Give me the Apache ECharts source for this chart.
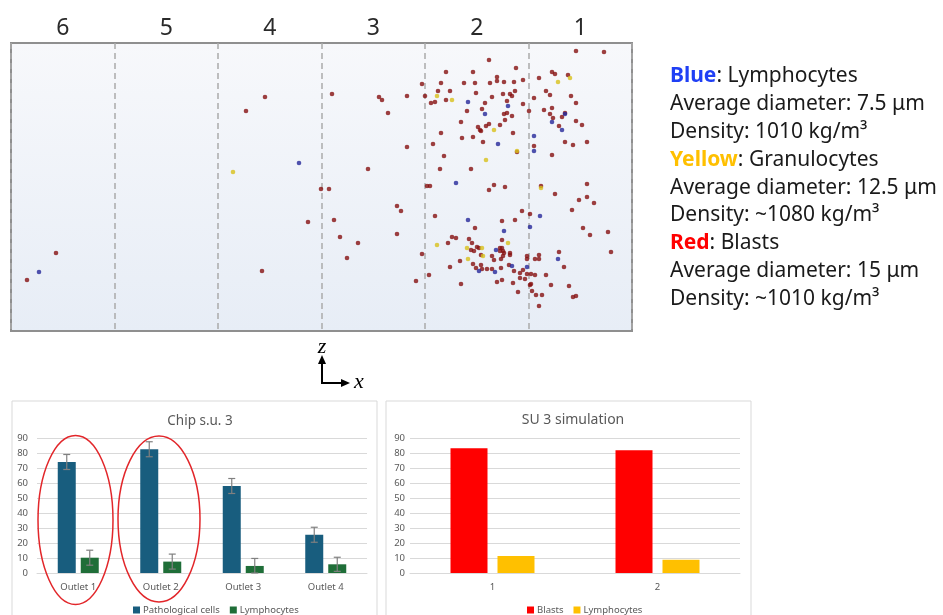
<!DOCTYPE html>
<html>
<head>
<meta charset="utf-8">
<script src="https://cdn.jsdelivr.net/npm/echarts@6.0.0/dist/echarts.min.js"></script>
<style>
  html, body { margin: 0; padding: 0; background: #fff; }
  #main { width: 943px; height: 615px; }
</style>
</head>
<body>
<div id="main"></div>
<script>
// channel sections, numbered from the outlet side
const sections = ['6', '5', '4', '3', '2', '1']

// particle positions [x, z] along the channel (channel = 621 x 288 units)
const blasts = [
  [16, 51], [45, 78], [254, 234], [235, 220], [297, 109], [251, 60], [310, 142], [318, 142],
  [321, 237], [368, 234], [371, 231], [377, 218], [396, 235], [396, 184], [357, 162], [386, 125],
  [390, 120], [323, 111], [329, 94], [386, 97], [347, 88], [336, 73], [411, 77], [405, 50],
  [411, 247], [414, 235], [416, 145],
  [478, 271], [505, 263], [435, 259], [462, 259], [486, 254], [486, 250], [512, 251], [430, 248],
  [453, 248], [464, 248], [479, 248], [493, 249], [503, 249], [427, 240], [439, 240], [465, 238],
  [492, 237], [499, 237], [501, 235], [504, 240], [435, 231], [420, 228], [424, 229], [481, 234],
  [496, 230], [512, 227], [474, 228], [471, 222], [456, 220], [493, 217], [496, 218], [501, 215],
  [494, 211], [450, 209], [467, 204], [475, 205], [478, 207], [489, 206], [469, 201], [470, 200],
  [502, 198], [430, 198], [462, 194], [451, 193], [472, 189], [422, 187], [506, 179], [433, 175],
  [429, 162], [460, 162], [419, 145], [483, 146], [494, 144],
  [478, 141], [511, 120], [424, 115], [491, 110], [504, 111], [464, 103], [441, 94], [445, 93],
  [458, 92], [491, 91], [461, 88], [437, 88], [466, 84], [468, 83], [460, 81], [463, 80],
  [489, 83], [491, 83], [489, 80], [492, 80], [493, 78], [499, 78], [499, 76], [470, 76],
  [481, 75], [492, 75], [449, 70], [483, 71], [490, 72], [462, 67], [470, 66], [498, 66],
  [439, 64], [465, 63], [490, 63], [471, 62], [476, 62], [481, 62], [503, 60], [512, 61],
  [509, 58], [418, 56], [509, 53], [491, 51], [486, 49], [502, 48], [450, 47], [507, 39],
  [523, 233], [518, 220], [523, 185], [565, 280], [593, 279], [541, 259], [544, 257], [557, 256],
  [528, 253], [535, 240], [539, 236], [560, 235], [565, 228], [533, 221], [541, 223], [539, 217],
  [542, 213], [551, 214], [554, 218], [565, 210], [571, 206], [548, 205], [576, 189], [554, 189],
  [562, 186], [541, 176], [576, 147], [530, 145], [544, 137], [576, 134], [568, 131], [583, 128],
  [561, 121], [519, 117], [572, 103], [597, 99], [579, 96], [548, 79], [600, 79], [528, 76],
  [516, 75], [516, 72], [524, 72], [528, 72], [553, 64], [516, 57], [520, 57], [524, 56],
  [535, 56], [514, 52], [540, 46], [520, 47], [519, 46], [558, 45], [521, 40], [525, 36],
  [531, 36], [562, 34], [565, 35], [528, 25]
]
const lymphocytes = [
  [28, 59], [288, 168], [457, 229], [497, 225], [474, 217], [487, 187], [523, 195], [523, 180],
  [445, 148], [457, 111], [493, 100], [519, 104], [485, 81], [501, 65], [516, 64], [468, 60],
  [484, 59], [554, 217], [541, 209], [551, 201], [529, 115], [547, 72]
]
const granulocytes = [
  [222, 159], [426, 235], [441, 231], [483, 201], [506, 180], [475, 171], [426, 86], [497, 88],
  [456, 83], [471, 83], [472, 75], [457, 72], [559, 253], [547, 249], [530, 143]
]

// Chip s.u. 3 (experiment)
const outlets = ['Outlet 1', 'Outlet 2', 'Outlet 3', 'Outlet 4']
const pathological = [74, 82.5, 58, 25.5]
const pathologicalErr = [5, 5, 5, 5]
const chipLymphocytes = [10.2, 7.6, 4.7, 5.8]
const chipLymphocytesErr = [5, 5, 5, 4.7]

// SU 3 simulation
const simOutlets = ['1', '2']
const simBlasts = [83.2, 81.8]
const simLymphocytes = [11.4, 8.8]

const FONT = 'Noto Sans'
const AXIS_GREY = '#595959'
const GRID_GREY = '#d9d9d9'
const chipBarWidth = 18
const chipBarGap = 5

function errorBars(lows, highs, side) {
  return {
    type: 'custom',
    xAxisIndex: 2,
    yAxisIndex: 1,
    silent: true,
    z: 5,
    data: lows.map((lo, i) => [i, lo, highs[i]]),
    encode: { x: 0, y: [1, 2] },
    renderItem: (params, api) => {
      const lo = api.coord([api.value(0), Math.max(0, api.value(1))])
      const hi = api.coord([api.value(0), api.value(2)])
      const x = lo[0] + side * (chipBarWidth + chipBarGap) / 2
      const style = { stroke: '#808080', lineWidth: 1.2 }
      return {
        type: 'group',
        children: [
          { type: 'line', shape: { x1: x, y1: lo[1], x2: x, y2: hi[1] }, style },
          { type: 'line', shape: { x1: x - 3.5, y1: hi[1], x2: x + 3.5, y2: hi[1] }, style },
          { type: 'line', shape: { x1: x - 3.5, y1: lo[1], x2: x + 3.5, y2: lo[1] }, style }
        ]
      }
    }
  }
}

const legendText = [
  '{blue|Blue}: Lymphocytes',
  'Average diameter: 7.5 μm',
  'Density: 1010 kg/m³',
  '{yellow|Yellow}: Granulocytes',
  'Average diameter: 12.5 μm',
  'Density: ~1080 kg/m³',
  '{red|Red}: Blasts',
  'Average diameter: 15 μm',
  'Density: ~1010 kg/m³'
].join('\n')

const valueAxisBar = (gridIndex, margin) => ({
  gridIndex,
  type: 'value',
  min: 0,
  max: 90,
  interval: 10,
  axisLine: { show: false },
  axisTick: { show: false },
  axisLabel: { color: AXIS_GREY, fontSize: 9.5, fontFamily: FONT, margin },
  splitLine: { lineStyle: { color: GRID_GREY, width: 1 } }
})

const categoryAxisBar = (gridIndex, data) => ({
  gridIndex,
  type: 'category',
  data,
  axisLine: { lineStyle: { color: GRID_GREY } },
  axisTick: { show: false },
  axisLabel: { color: AXIS_GREY, fontSize: 9.5, fontFamily: FONT, margin: 9 }
})

const option = {
  backgroundColor: '#ffffff',
  animation: false,
  textStyle: { fontFamily: FONT },
  title: [
    {
      text: 'Chip s.u. 3',
      left: 195,
      top: 409,
      textAlign: 'center',
      textStyle: { fontSize: 13.5, color: AXIS_GREY, fontWeight: 'normal', fontFamily: FONT }
    },
    {
      text: 'SU 3 simulation',
      left: 568,
      top: 408,
      textAlign: 'center',
      textStyle: { fontSize: 14, color: AXIS_GREY, fontWeight: 'normal', fontFamily: FONT }
    }
  ],
  legend: [
    {
      left: 128,
      top: 600,
      itemWidth: 7,
      itemHeight: 7,
      itemGap: 10,
      selectedMode: false,
      textStyle: { fontSize: 9.5, color: AXIS_GREY, fontFamily: FONT, padding: [0, 0, 0, -2] },
      data: [
        { name: 'Pathological cells', icon: 'rect', itemStyle: { color: '#185d7e' } },
        { name: 'Lymphocytes', icon: 'rect', itemStyle: { color: '#1f6e38' } }
      ]
    },
    {
      left: 522,
      top: 600,
      itemWidth: 7,
      itemHeight: 7,
      itemGap: 10,
      selectedMode: false,
      textStyle: { fontSize: 9.5, color: AXIS_GREY, fontFamily: FONT, padding: [0, 0, 0, -2] },
      data: [
        { name: 'Blasts', icon: 'rect', itemStyle: { color: '#ff0000' } },
        { name: 'Lymphocytes', icon: 'rect', itemStyle: { color: '#ffc000' } }
      ]
    }
  ],
  grid: [
    {
      left: 11, top: 43, width: 621, height: 288,
      show: true,
      backgroundColor: new echarts.graphic.LinearGradient(0, 0, 0, 1, [
        { offset: 0, color: '#f7f8fb' },
        { offset: 1, color: '#e7edf6' }
      ]),
      borderColor: '#8f8f8f',
      borderWidth: 2
    },
    { left: 37, top: 438, width: 330, height: 135 },
    { left: 410, top: 438, width: 330, height: 135 }
  ],
  xAxis: [
    { gridIndex: 0, type: 'value', min: 0, max: 621, show: false },
    {
      gridIndex: 0,
      type: 'category',
      position: 'top',
      data: sections,
      boundaryGap: true,
      axisLine: { show: false },
      axisTick: { show: false, interval: 0 },
      axisLabel: { interval: 0, fontSize: 23, color: '#2a2a2a', fontFamily: FONT, margin: 3 },
      splitLine: { show: true, interval: 0, lineStyle: { type: [6, 4], color: '#ababab', width: 1.5 } }
    },
    categoryAxisBar(1, outlets),
    categoryAxisBar(2, simOutlets)
  ],
  yAxis: [
    { gridIndex: 0, type: 'value', min: 0, max: 288, show: false },
    valueAxisBar(1, 9),
    valueAxisBar(2, 5)
  ],
  series: [
    {
      name: 'Red: Blasts', type: 'scatter', xAxisIndex: 0, yAxisIndex: 0,
      data: blasts, symbolSize: 4.6, silent: true,
      itemStyle: { color: '#861010' }
    },
    {
      name: 'Blue: Lymphocytes', type: 'scatter', xAxisIndex: 0, yAxisIndex: 0,
      data: lymphocytes, symbolSize: 4.6, silent: true,
      itemStyle: { color: '#26289a' }
    },
    {
      name: 'Yellow: Granulocytes', type: 'scatter', xAxisIndex: 0, yAxisIndex: 0,
      data: granulocytes, symbolSize: 4.6, silent: true,
      itemStyle: { color: '#d8c01a' }
    },
    {
      name: 'Pathological cells', type: 'bar', xAxisIndex: 2, yAxisIndex: 1,
      data: pathological, barWidth: chipBarWidth, barGap: (chipBarGap / chipBarWidth * 100) + '%',
      itemStyle: { color: '#185d7e' }
    },
    {
      name: 'Lymphocytes', type: 'bar', xAxisIndex: 2, yAxisIndex: 1,
      data: chipLymphocytes, barWidth: chipBarWidth,
      itemStyle: { color: '#1f6e38' }
    },
    errorBars(pathological.map((v, i) => v - pathologicalErr[i]), pathological.map((v, i) => v + pathologicalErr[i]), -1),
    errorBars(chipLymphocytes.map((v, i) => v - chipLymphocytesErr[i]), chipLymphocytes.map((v, i) => v + chipLymphocytesErr[i]), 1),
    {
      name: 'Blasts', type: 'bar', xAxisIndex: 3, yAxisIndex: 2,
      data: simBlasts, barWidth: 37, barGap: '27%',
      itemStyle: { color: '#ff0000' }
    },
    {
      name: 'Lymphocytes', type: 'bar', xAxisIndex: 3, yAxisIndex: 2,
      data: simLymphocytes, barWidth: 37,
      itemStyle: { color: '#ffc000' }
    }
  ],
  graphic: [
    // chart frames
    { type: 'rect', z: -10, shape: { x: 12, y: 401, width: 365, height: 240 }, style: { fill: 'none', stroke: GRID_GREY, lineWidth: 1 } },
    { type: 'rect', z: -10, shape: { x: 386, y: 401, width: 365, height: 240 }, style: { fill: 'none', stroke: GRID_GREY, lineWidth: 1 } },
    // outlets circled in red
    { type: 'ellipse', z: 20, shape: { cx: 75.5, cy: 520, rx: 37.5, ry: 84.5 }, style: { fill: 'none', stroke: '#e2262a', lineWidth: 1.5 } },
    { type: 'ellipse', z: 20, shape: { cx: 159, cy: 519, rx: 41, ry: 83 }, style: { fill: 'none', stroke: '#e2262a', lineWidth: 1.5 } },
    // z / x orientation arrows
    { type: 'line', z: 20, shape: { x1: 322, y1: 383, x2: 322, y2: 362 }, style: { stroke: '#000', lineWidth: 2 } },
    { type: 'polygon', z: 20, shape: { points: [[322, 355], [318, 364], [326, 364]] }, style: { fill: '#000' } },
    { type: 'line', z: 20, shape: { x1: 321, y1: 383, x2: 343, y2: 383 }, style: { stroke: '#000', lineWidth: 2 } },
    { type: 'polygon', z: 20, shape: { points: [[350, 383], [341, 379], [341, 387]] }, style: { fill: '#000' } },
    { type: 'text', z: 20, x: 322, y: 347, style: { text: 'z', font: 'italic 22px "Liberation Serif"', fill: '#000', align: 'center', verticalAlign: 'middle' } },
    { type: 'text', z: 20, x: 359, y: 382, style: { text: 'x', font: 'italic 22px "Liberation Serif"', fill: '#000', align: 'center', verticalAlign: 'middle' } },
    // cell type key
    {
      type: 'text', z: 20, x: 670, y: 62,
      style: {
        text: legendText,
        fontFamily: FONT,
        fontSize: 21,
        lineHeight: 27.9,
        fill: '#1a1a1a',
        rich: {
          blue: { fontFamily: FONT, fontSize: 21, fontWeight: 'bold', fill: '#1f3ff5' },
          yellow: { fontFamily: FONT, fontSize: 21, fontWeight: 'bold', fill: '#ffc000' },
          red: { fontFamily: FONT, fontSize: 21, fontWeight: 'bold', fill: '#ff0000' }
        }
      }
    }
  ]
}

const chart = echarts.init(document.getElementById('main'), null, { renderer: 'canvas' })
chart.setOption(option)
</script>
</body>
</html>
